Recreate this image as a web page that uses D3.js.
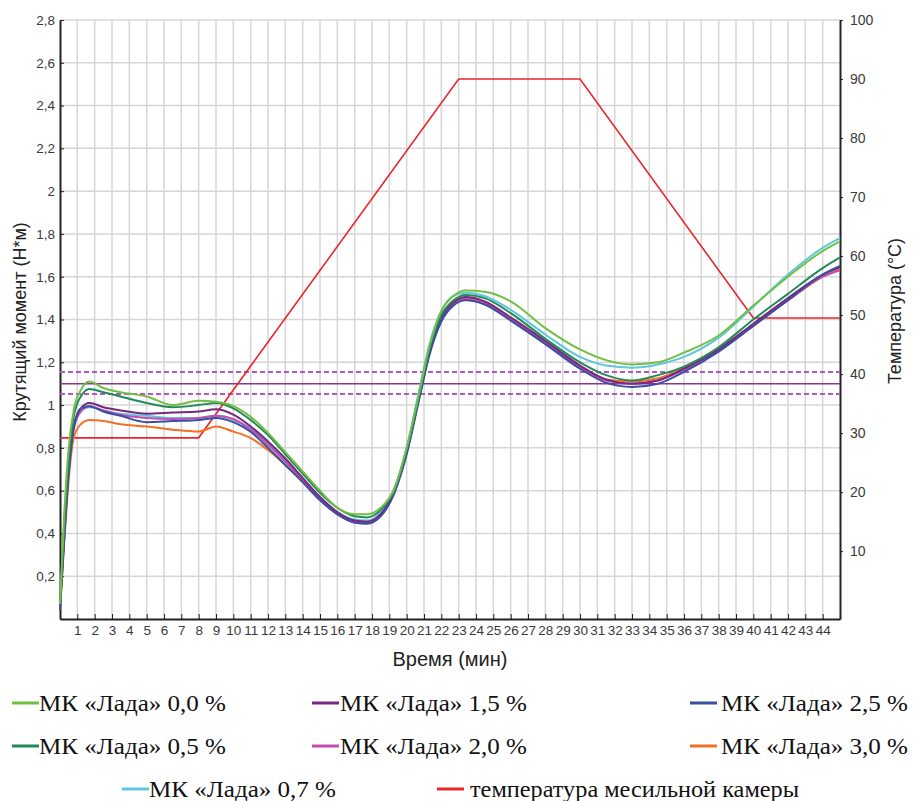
<!DOCTYPE html>
<html>
<head>
<meta charset="utf-8">
<script src="https://cdn.jsdelivr.net/npm/d3@7"></script>
<style>
body { margin: 0; background: #fff; }
#chart { width: 915px; height: 801px; }
.axis text { font-family: "Liberation Sans", Arial, sans-serif; fill: #3a3a3a; }
.axis-label { font-family: "Liberation Sans", Arial, sans-serif; font-size: 18px; fill: #222; }
.legend-text { font-family: "Liberation Serif", "Times New Roman", serif; font-size: 24px; fill: #111; }
</style>
</head>
<body>
<div id="chart"></div>
<script>
// time points (min) shared by all torque curves
const minutes = [0, 0.25, 0.5, 0.8, 1.2, 1.7, 2.5, 3.5, 5, 6.5, 8, 9, 10, 11, 12, 13, 14, 15, 16, 17, 17.7, 18.5, 19.3, 20, 20.7, 21.3, 22, 22.7, 23.4, 24.5, 26, 28, 30, 31.5, 33, 34.5, 36, 38, 40, 42, 44, 45];

const torque00 = [0.07, 0.5, 0.8, 0.98, 1.07, 1.11, 1.08, 1.06, 1.04, 1.0, 1.02, 1.015, 0.995, 0.945, 0.87, 0.78, 0.69, 0.6, 0.52, 0.49, 0.49, 0.52, 0.61, 0.8, 1.05, 1.27, 1.44, 1.51, 1.535, 1.53, 1.485, 1.36, 1.26, 1.21, 1.19, 1.2, 1.245, 1.325, 1.465, 1.6, 1.72, 1.765];
const torque05 = [0.07, 0.45, 0.75, 0.95, 1.04, 1.075, 1.06, 1.04, 1.01, 0.99, 1.0, 1.01, 0.985, 0.93, 0.86, 0.77, 0.68, 0.59, 0.52, 0.48, 0.475, 0.51, 0.61, 0.79, 1.04, 1.26, 1.42, 1.49, 1.515, 1.5, 1.43, 1.31, 1.2, 1.14, 1.115, 1.14, 1.18, 1.27, 1.4, 1.52, 1.64, 1.69];
const torque07 = [0.06, 0.42, 0.72, 0.9, 0.97, 0.99, 0.975, 0.96, 0.95, 0.94, 0.94, 0.95, 0.93, 0.89, 0.82, 0.74, 0.65, 0.57, 0.5, 0.465, 0.46, 0.5, 0.61, 0.8, 1.06, 1.28, 1.44, 1.51, 1.525, 1.51, 1.445, 1.33, 1.225, 1.185, 1.175, 1.19, 1.225, 1.315, 1.46, 1.61, 1.735, 1.78];
const torque15 = [0.06, 0.4, 0.7, 0.9, 0.985, 1.01, 0.99, 0.975, 0.96, 0.965, 0.97, 0.98, 0.955, 0.9, 0.83, 0.75, 0.66, 0.57, 0.5, 0.46, 0.455, 0.49, 0.6, 0.78, 1.03, 1.25, 1.41, 1.48, 1.505, 1.485, 1.41, 1.3, 1.185, 1.12, 1.1, 1.115, 1.17, 1.26, 1.38, 1.5, 1.61, 1.645];
const torque20 = [0.06, 0.4, 0.7, 0.89, 0.97, 0.995, 0.975, 0.955, 0.94, 0.935, 0.94, 0.95, 0.935, 0.885, 0.815, 0.735, 0.65, 0.56, 0.49, 0.455, 0.45, 0.49, 0.6, 0.78, 1.03, 1.24, 1.4, 1.47, 1.495, 1.475, 1.4, 1.29, 1.18, 1.115, 1.1, 1.115, 1.165, 1.255, 1.37, 1.49, 1.6, 1.63];
const torque25 = [0.04, 0.38, 0.68, 0.9, 0.985, 0.995, 0.97, 0.95, 0.92, 0.925, 0.93, 0.94, 0.92, 0.875, 0.8, 0.72, 0.64, 0.555, 0.49, 0.45, 0.445, 0.48, 0.59, 0.77, 1.02, 1.23, 1.39, 1.465, 1.49, 1.47, 1.395, 1.285, 1.17, 1.105, 1.085, 1.1, 1.155, 1.25, 1.37, 1.49, 1.61, 1.65];
const torque30 = [0.05, 0.37, 0.65, 0.85, 0.91, 0.93, 0.925, 0.91, 0.9, 0.885, 0.876, 0.9, 0.876, 0.846, 0.79, 0.72, 0.64, 0.56, 0.49, 0.455, 0.45, 0.49, 0.6, 0.78, 1.03, 1.24, 1.4, 1.475, 1.5, 1.48, 1.4, 1.29, 1.18, 1.12, 1.11, 1.125, 1.175, 1.265, 1.375, 1.49, 1.6, 1.64];

// mixing chamber temperature
const tempTime = [0, 8, 23, 30, 40, 45];
const tempValues = [29.2, 29.2, 90, 90, 49.5, 49.5];

// reference band (solid = target, dashed = limits)
const limitTarget = 1.1;
const limitBand = [1.052, 1.155];

const xTicks = d3.range(1, 45);
const yTicks = [0.2, 0.4, 0.6, 0.8, 1, 1.2, 1.4, 1.6, 1.8, 2, 2.2, 2.4, 2.6, 2.8];
const tempTicks = [10, 20, 30, 40, 50, 60, 70, 80, 90, 100];

const seriesNames = ["МК «Лада» 0,0 %", "МК «Лада» 0,5 %", "МК «Лада» 0,7 %", "МК «Лада» 1,5 %", "МК «Лада» 2,0 %", "МК «Лада» 2,5 %", "МК «Лада» 3,0 %"];
const seriesValues = [torque00, torque05, torque07, torque15, torque20, torque25, torque30];
const seriesColors = ["#72bf44", "#23895a", "#5ec6dd", "#76287f", "#c150ad", "#3a4ea3", "#f36f26"];
const tempName = "температура месильной камеры";
const tempColor = "#e8262b";

function renderChart(selector) {
    const W = 915, H = 801;
    const margin = {top: 20, right: 75, bottom: 182, left: 60};
    const width = W - margin.left - margin.right;
    const height = H - margin.top - margin.bottom;

    const svg = d3.select(selector).append("svg")
        .attr("width", W)
        .attr("height", H)
        .append("g")
        .attr("transform", `translate(${margin.left}, ${margin.top})`);

    const x = d3.scaleLinear().domain([0, 45]).range([0, width]);
    const y = d3.scaleLinear().domain([0, 2.8]).range([height, 0]);
    const yTemp = d3.scaleLinear().domain([-1.5, 100]).range([height, 0]);

    // grid
    svg.append("g")
        .selectAll("line")
        .data(xTicks)
        .enter()
        .append("line")
        .attr("x1", d => x(d)).attr("x2", d => x(d))
        .attr("y1", 0).attr("y2", height)
        .attr("stroke", "#d6d6d6")
        .attr("stroke-width", 1.5);

    svg.append("g")
        .selectAll("line")
        .data(yTicks)
        .enter()
        .append("line")
        .attr("x1", 0).attr("x2", width)
        .attr("y1", d => y(d)).attr("y2", d => y(d))
        .attr("stroke", "#d6d6d6")
        .attr("stroke-width", 1.5);

    // axes
    const fmt = d => String(d).replace(".", ",");

    const xAxis = svg.append("g")
        .attr("class", "axis")
        .attr("transform", `translate(0, ${height})`)
        .call(d3.axisBottom(x).tickValues(xTicks).tickSize(-5).tickPadding(6).tickSizeOuter(0));
    xAxis.selectAll("text").attr("font-size", 13.5);

    const yAxis = svg.append("g")
        .attr("class", "axis")
        .call(d3.axisLeft(y).tickValues(yTicks).tickFormat(fmt).tickSize(-4).tickPadding(5).tickSizeOuter(0));
    yAxis.selectAll("text").attr("font-size", 13.5);

    const rAxis = svg.append("g")
        .attr("class", "axis")
        .attr("transform", `translate(${width}, 0)`)
        .call(d3.axisRight(yTemp).tickValues(tempTicks).tickSize(3).tickPadding(7).tickSizeOuter(0));
    rAxis.selectAll("text").attr("font-size", 14);

    svg.selectAll(".axis .domain").attr("stroke", "#222").attr("stroke-width", 2);
    svg.selectAll(".axis .tick line").attr("stroke", "#222");

    // reference band
    svg.append("line")
        .attr("x1", 0).attr("x2", width)
        .attr("y1", y(limitTarget)).attr("y2", y(limitTarget))
        .attr("stroke", "#8a3590")
        .attr("stroke-width", 1.6);

    svg.selectAll(".band")
        .data(limitBand)
        .enter()
        .append("line")
        .attr("class", "band")
        .attr("x1", 0).attr("x2", width)
        .attr("y1", d => y(d)).attr("y2", d => y(d))
        .attr("stroke", "#b455c0")
        .attr("stroke-width", 2)
        .attr("stroke-dasharray", "5,3");

    // temperature
    const tempLine = d3.line()
        .x((d, i) => x(tempTime[i]))
        .y(d => yTemp(d));

    svg.append("path")
        .datum(tempValues)
        .attr("d", tempLine)
        .attr("fill", "none")
        .attr("stroke", tempColor)
        .attr("stroke-width", 1.6);

    // torque curves
    const line = d3.line()
        .x((d, i) => x(minutes[i]))
        .y(d => y(d))
        .curve(d3.curveMonotoneX);

    const drawOrder = [6, 2, 4, 3, 5, 1, 0];
    drawOrder.forEach(k => {
        svg.append("path")
            .datum(seriesValues[k])
            .attr("d", line)
            .attr("fill", "none")
            .attr("stroke", seriesColors[k])
            .attr("stroke-width", 2);
    });

    // axis titles
    svg.append("text")
        .attr("class", "axis-label")
        .attr("transform", "rotate(-90)")
        .attr("x", -302)
        .attr("y", -34)
        .attr("text-anchor", "middle")
        .text("Крутящий момент (Н*м)");

    svg.append("text")
        .attr("class", "axis-label")
        .attr("transform", "rotate(-90)")
        .attr("x", -291)
        .attr("y", width + 61)
        .attr("text-anchor", "middle")
        .text("Температура (°C)");

    svg.append("text")
        .attr("class", "axis-label")
        .attr("x", 390)
        .attr("y", height + 47)
        .attr("text-anchor", "middle")
        .style("font-size", "20px")
        .text("Время (мин)");

    // legend
    const root = d3.select(selector).select("svg");
    const legendItems = [
        {name: seriesNames[0], color: seriesColors[0], lx: 12, tx: 39, row: 0, tw: 187},
        {name: seriesNames[3], color: seriesColors[3], lx: 312, tx: 340, row: 0, tw: 187},
        {name: seriesNames[5], color: seriesColors[5], lx: 690, tx: 721, row: 0, tw: 187},
        {name: seriesNames[1], color: seriesColors[1], lx: 12, tx: 39, row: 1, tw: 187},
        {name: seriesNames[4], color: seriesColors[4], lx: 312, tx: 340, row: 1, tw: 187},
        {name: seriesNames[6], color: seriesColors[6], lx: 690, tx: 721, row: 1, tw: 187},
        {name: seriesNames[2], color: seriesColors[2], lx: 122, tx: 149, row: 2, tw: 187},
        {name: tempName, color: tempColor, lx: 437, tx: 470, row: 2, tw: 329}
    ];
    const rowY = [703, 746, 789];

    const lg = root.append("g").selectAll("g")
        .data(legendItems)
        .enter()
        .append("g");

    lg.append("line")
        .attr("x1", d => d.lx).attr("x2", d => d.lx + 27)
        .attr("y1", d => rowY[d.row]).attr("y2", d => rowY[d.row])
        .attr("stroke", d => d.color)
        .attr("stroke-width", 3);

    lg.append("text")
        .attr("class", "legend-text")
        .attr("x", d => d.tx)
        .attr("y", d => rowY[d.row] + 8)
        .attr("textLength", d => d.tw)
        .attr("lengthAdjust", "spacingAndGlyphs")
        .text(d => d.name);
}

renderChart("#chart");
</script>
</body>
</html>
